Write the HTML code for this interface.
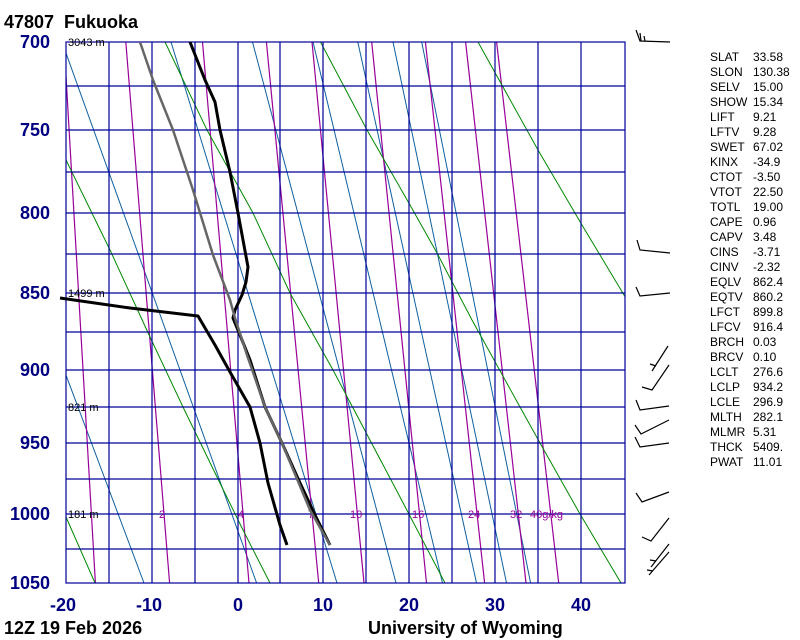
<!DOCTYPE html>
<html><head><meta charset="utf-8"><style>
html,body{margin:0;padding:0;background:#fff;}
svg{display:block;}
.pl{font-family:"Liberation Sans",sans-serif;font-weight:bold;font-size:18px;fill:#000080;}
.st{font-family:"Liberation Sans",sans-serif;font-size:12px;fill:#000;}
.hl{font-family:"Liberation Sans",sans-serif;font-size:11px;fill:#000;}
.mr{font-family:"Liberation Sans",sans-serif;font-size:11px;fill:#990099;}
.tt{font-family:"Liberation Sans",sans-serif;font-weight:bold;font-size:18px;fill:#000;}
</style></head><body>
<svg width="800" height="640" viewBox="0 0 800 640" xmlns="http://www.w3.org/2000/svg">
<defs><clipPath id="c"><rect x="66" y="42" width="559" height="541"/></clipPath></defs>
<g clip-path="url(#c)" fill="none">
<g stroke="#1060a0" stroke-width="1">
<line x1="-59" y1="42" x2="144" y2="583"/>
<line x1="62" y1="42" x2="256.6" y2="583"/>
<line x1="171" y1="42" x2="337" y2="583"/>
<line x1="252.5" y1="42" x2="396" y2="583"/>
<line x1="313" y1="42" x2="442.5" y2="583"/>
<line x1="357.8" y1="42" x2="476.5" y2="583"/>
<line x1="393" y1="42" x2="506.5" y2="583"/>
<line x1="421.7" y1="42" x2="530.6" y2="583"/>
</g>
<g stroke="#990099" stroke-width="1.2">
<line x1="64" y1="42" x2="95.4" y2="583"/>
<line x1="125.8" y1="42" x2="169.6" y2="583"/>
<line x1="202.5" y1="42" x2="249" y2="583"/>
<line x1="266.4" y1="42" x2="318.7" y2="583"/>
<line x1="312" y1="42" x2="364" y2="583"/>
<line x1="371.7" y1="42" x2="426.5" y2="583"/>
<line x1="425.4" y1="42" x2="484.6" y2="583"/>
<line x1="465.6" y1="42" x2="526" y2="583"/>
<line x1="496.6" y1="42" x2="558.7" y2="583"/>
</g>
<g stroke="#008800" stroke-width="1">
<polyline points="40,440 66,517 95,583"/>
<polyline points="10,50 66,160 110,250 150,337 183,407 217,477 243,530 270,583"/>
<polyline points="165,42 207,130 253,213 290,293 333,370 400,497 445,583"/>
<polyline points="320.5,42 367,130 410,205 437,253 472,320 520,407 540,443 580,514 621,583"/>
<polyline points="478,42 538,150 582,225 630,305"/>
</g>
</g>
<g stroke="#000099" stroke-width="1.2" fill="none">
<line x1="109" y1="42" x2="109" y2="583"/><line x1="152" y1="42" x2="152" y2="583"/>
<line x1="195" y1="42" x2="195" y2="583"/><line x1="238" y1="42" x2="238" y2="583"/>
<line x1="280" y1="42" x2="280" y2="583"/><line x1="323" y1="42" x2="323" y2="583"/>
<line x1="366" y1="42" x2="366" y2="583"/><line x1="409" y1="42" x2="409" y2="583"/>
<line x1="452" y1="42" x2="452" y2="583"/><line x1="495" y1="42" x2="495" y2="583"/>
<line x1="538" y1="42" x2="538" y2="583"/><line x1="581" y1="42" x2="581" y2="583"/>
<line x1="66" y1="86" x2="625" y2="86"/><line x1="66" y1="130" x2="625" y2="130"/>
<line x1="66" y1="172" x2="625" y2="172"/><line x1="66" y1="213" x2="625" y2="213"/>
<line x1="66" y1="254" x2="625" y2="254"/><line x1="66" y1="293" x2="625" y2="293"/>
<line x1="66" y1="332" x2="625" y2="332"/><line x1="66" y1="370" x2="625" y2="370"/>
<line x1="66" y1="407" x2="625" y2="407"/><line x1="66" y1="443" x2="625" y2="443"/>
<line x1="66" y1="479" x2="625" y2="479"/><line x1="66" y1="514" x2="625" y2="514"/>
<line x1="66" y1="549" x2="625" y2="549"/>
<rect x="66" y="42" width="559" height="541"/>
</g>
<g class="mr">
<text x="159" y="518">2</text><text x="238" y="518">4</text><text x="308" y="518">7</text>
<text x="350" y="518">10</text><text x="412" y="518">16</text><text x="468" y="518">24</text>
<text x="510" y="518">32</text><text x="530" y="518">40g/kg</text>
</g>
<g class="hl">
<text x="68" y="46">3043 m</text><text x="68" y="297">1499 m</text>
<text x="68" y="411">821 m</text><text x="68" y="518">181 m</text>
</g>
<g fill="none" stroke-linejoin="round">
<polyline stroke="#000" stroke-width="3" points="190,42 205,80 215,102 220,130 230,172 238,213 248,267 246,282 242,295 235,310 233,318 240,335 250,360 265,407 282,443 300,483 315,515 330,545"/>
<polyline stroke="#000" stroke-width="3" points="60,298 130,308 198,316 215,345 230,372 250,407 260,443 268,483 280,525 287,545"/>
<polyline stroke="#666" stroke-width="2.5" points="140,42 153,80 173,130 193,190 213,255 230,300 235,318 247,355 265,407 282,443 310,510 330,545"/>
</g>
<g stroke="#000" stroke-width="1.2" fill="none">
<polyline points="670,42 640,41 636,30"/><line x1="641" y1="41" x2="640" y2="33"/><line x1="645" y1="41" x2="644" y2="36"/>
<polyline points="670,253 640,250 637,240"/>
<polyline points="670,293 640,296 636,287"/>
<line x1="668" y1="346" x2="652" y2="371"/><line x1="650" y1="364" x2="656" y2="366"/>
<polyline points="669,365 652,390 642,387"/>
<polyline points="669,406 640,410 636,400"/>
<polyline points="669,420 641,434 635,425"/>
<polyline points="669,443 640,447 635,437"/>
<polyline points="669,492 642,502 636,493"/>
<polyline points="669,518 651,541 642,537"/>
<line x1="669" y1="544" x2="651" y2="567"/><line x1="650" y1="560" x2="656" y2="561"/>
<line x1="669" y1="552" x2="649" y2="575"/><line x1="647" y1="570" x2="653" y2="571"/>
</g>
<g class="pl" text-anchor="end">
<text x="50" y="48">700</text><text x="50" y="136">750</text><text x="50" y="219">800</text>
<text x="50" y="299">850</text><text x="50" y="376">900</text><text x="50" y="449">950</text>
<text x="50" y="520">1000</text><text x="50" y="589">1050</text>
</g>
<g class="pl" text-anchor="middle">
<text x="63" y="611">-20</text><text x="149" y="611">-10</text><text x="238" y="611">0</text>
<text x="323" y="611">10</text><text x="409" y="611">20</text><text x="495" y="611">30</text><text x="581" y="611">40</text>
</g>
<text class="tt" x="4" y="28">47807&#160;&#160;Fukuoka</text>
<text class="tt" x="4" y="634">12Z 19 Feb 2026</text>
<text class="tt" x="368" y="634">University of Wyoming</text>
<g class="st">
<text x="710" y="61">SLAT</text><text x="753" y="61">33.58</text>
<text x="710" y="76">SLON</text><text x="753" y="76">130.38</text>
<text x="710" y="91">SELV</text><text x="753" y="91">15.00</text>
<text x="710" y="106">SHOW</text><text x="753" y="106">15.34</text>
<text x="710" y="121">LIFT</text><text x="753" y="121">9.21</text>
<text x="710" y="136">LFTV</text><text x="753" y="136">9.28</text>
<text x="710" y="151">SWET</text><text x="753" y="151">67.02</text>
<text x="710" y="166">KINX</text><text x="753" y="166">-34.9</text>
<text x="710" y="181">CTOT</text><text x="753" y="181">-3.50</text>
<text x="710" y="196">VTOT</text><text x="753" y="196">22.50</text>
<text x="710" y="211">TOTL</text><text x="753" y="211">19.00</text>
<text x="710" y="226">CAPE</text><text x="753" y="226">0.96</text>
<text x="710" y="241">CAPV</text><text x="753" y="241">3.48</text>
<text x="710" y="256">CINS</text><text x="753" y="256">-3.71</text>
<text x="710" y="271">CINV</text><text x="753" y="271">-2.32</text>
<text x="710" y="286">EQLV</text><text x="753" y="286">862.4</text>
<text x="710" y="301">EQTV</text><text x="753" y="301">860.2</text>
<text x="710" y="316">LFCT</text><text x="753" y="316">899.8</text>
<text x="710" y="331">LFCV</text><text x="753" y="331">916.4</text>
<text x="710" y="346">BRCH</text><text x="753" y="346">0.03</text>
<text x="710" y="361">BRCV</text><text x="753" y="361">0.10</text>
<text x="710" y="376">LCLT</text><text x="753" y="376">276.6</text>
<text x="710" y="391">LCLP</text><text x="753" y="391">934.2</text>
<text x="710" y="406">LCLE</text><text x="753" y="406">296.9</text>
<text x="710" y="421">MLTH</text><text x="753" y="421">282.1</text>
<text x="710" y="436">MLMR</text><text x="753" y="436">5.31</text>
<text x="710" y="451">THCK</text><text x="753" y="451">5409.</text>
<text x="710" y="466">PWAT</text><text x="753" y="466">11.01</text>
</g>
</svg>
</body></html>
